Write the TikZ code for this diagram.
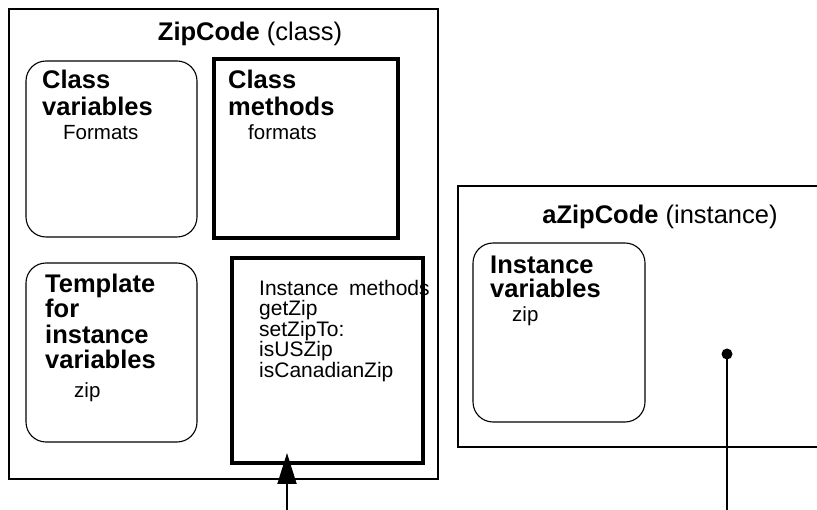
\documentclass[tikz,border=0pt]{standalone}
\usepackage{fontspec}
\setmainfont{Liberation Sans}
\usetikzlibrary{arrows.meta}
\begin{document}
\begin{tikzpicture}[x=1pt, y=-1pt,
  frame/.style={draw, line width=2.4pt, inner sep=0pt, outer sep=0pt, anchor=north west},
  heavybox/.style={draw, line width=3.6pt, inner sep=0pt, outer sep=0pt, anchor=north west},
  softbox/.style={draw, line width=1.1pt, rounded corners=20pt, inner sep=0pt, outer sep=0pt, anchor=north west},
  head/.style={anchor=base, inner sep=0pt, font=\fontsize{25.5}{26}\selectfont},
  bold/.style={anchor=base west, inner sep=0pt, font=\fontsize{25.5}{26}\selectfont\bfseries},
  plain/.style={anchor=base west, inner sep=0pt, font=\fontsize{20.5}{22}\selectfont},
  listing/.style={anchor=base west, inner sep=0pt, font=\fontsize{21}{21}\selectfont},
  wire/.style={line width=2pt}
]
\useasboundingbox (0,0) rectangle (817,510);

% the class object
\node[frame, minimum width=429pt, minimum height=470pt] (cls) at (9,9) {};
\node[head] (clstitle) at (250,41) {\textbf{ZipCode} (class)};

\node[softbox, minimum width=171pt, minimum height=176pt] (cvars) at (26,61) {};
\node[bold] (cv1) at (42,89) {Class};
\node[bold] (cv2) at (42,116) {variables};
\node[plain] (cv3) at (63,140) {Formats};

\node[heavybox, minimum width=184pt, minimum height=179pt] (cmeth) at (214,59) {};
\node[bold] (cm1) at (228,89) {Class};
\node[bold] (cm2) at (228,116) {methods};
\node[plain] (cm3) at (248,140) {formats};

\node[softbox, minimum width=171pt, minimum height=179pt] (tmpl) at (26,263) {};
\node[bold] (tp1) at (45,293) {Template};
\node[bold] (tp2) at (45,318) {for};
\node[bold] (tp3) at (45,343.5) {instance};
\node[bold] (tp4) at (45,369) {variables};
\node[plain] (tp5) at (74,398) {zip};

\node[heavybox, minimum width=191pt, minimum height=205pt] (imeth) at (232,258) {};
\node[listing] (im1) at (259,295.5) {Instance\hspace{0.5em}methods};
\node[listing] (im2) at (259,316) {getZip};
\node[listing] (im3) at (259,336.5) {setZipTo:};
\node[listing] (im4) at (259,357) {isUSZip};
\node[listing] (im5) at (259,377.5) {isCanadianZip};

% the instance object
\node[frame, minimum width=372pt, minimum height=261pt] (inst) at (458,186) {};
\node[head] (insttitle) at (660,224) {\textbf{aZipCode} (instance)};

\node[softbox, minimum width=172pt, minimum height=179pt] (ivars) at (473,243) {};
\node[bold] (iv1) at (490,274) {Instance};
\node[bold] (iv2) at (490,298) {variables};
\node[plain] (iv3) at (512,322) {zip};

% pointers
\coordinate (arrowfoot) at (287,512);
\draw[wire, -{Triangle[length=31pt, width=19pt]}] (arrowfoot) -- ([yshift=10pt]imeth.south -| arrowfoot);

\node[circle, fill=black, inner sep=0pt, minimum size=11pt] (dot) at (727,354) {};
\coordinate (dotfoot) at (727,512);
\draw[line width=1.8pt] (dotfoot) -- (dot.center);
\end{tikzpicture}
\end{document}
